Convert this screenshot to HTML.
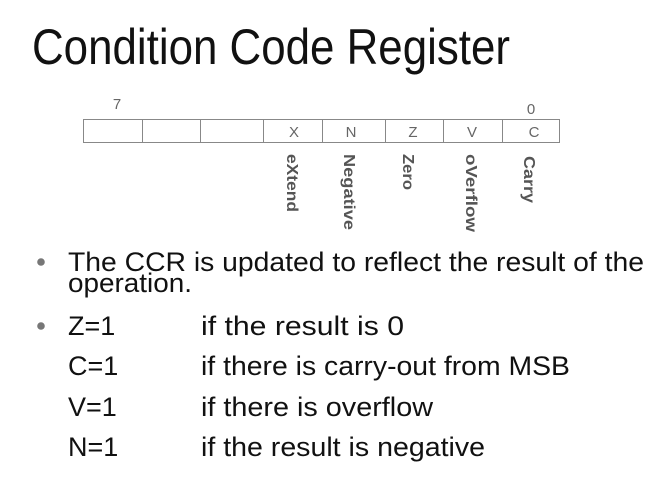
<!DOCTYPE html>
<html><head><style>body{margin:0;background:#fff}svg{display:block}</style></head>
<body>
<svg width="664" height="503" viewBox="0 0 664 503" xmlns="http://www.w3.org/2000/svg" font-family="Liberation Sans, sans-serif">
<text x="32" y="64" font-size="50" fill="#111" textLength="478" lengthAdjust="spacingAndGlyphs">Condition Code Register</text>
<g fill="none" stroke="#888" stroke-width="1">
<rect x="83.5" y="119.5" width="476" height="23"/>
<line x1="142.5" y1="119" x2="142.5" y2="143"/>
<line x1="200.5" y1="119" x2="200.5" y2="143"/>
<line x1="263.5" y1="119" x2="263.5" y2="143"/>
<line x1="322.5" y1="119" x2="322.5" y2="143"/>
<line x1="385.5" y1="119" x2="385.5" y2="143"/>
<line x1="443.5" y1="119" x2="443.5" y2="143"/>
<line x1="502.5" y1="119" x2="502.5" y2="143"/>
</g>
<g font-size="15" fill="#666" text-anchor="middle">
<text x="117" y="109">7</text>
<text x="531" y="114">0</text>
<text x="294" y="137">X</text>
<text x="351" y="137">N</text>
<text x="413" y="137">Z</text>
<text x="472" y="137">V</text>
<text x="534" y="137">C</text>
</g>
<g font-size="16" font-weight="bold" fill="#555">
<text transform="translate(287,154) rotate(90)" textLength="58" lengthAdjust="spacingAndGlyphs">eXtend</text>
<text transform="translate(344,154) rotate(90)" textLength="76" lengthAdjust="spacingAndGlyphs">Negative</text>
<text transform="translate(403,154) rotate(90)" textLength="36" lengthAdjust="spacingAndGlyphs">Zero</text>
<text transform="translate(466,154) rotate(90)" textLength="78" lengthAdjust="spacingAndGlyphs">oVerflow</text>
<text transform="translate(524,156) rotate(90)" textLength="47" lengthAdjust="spacingAndGlyphs">Carry</text>
</g>
<g fill="#777"><circle cx="41" cy="262" r="3.8"/><circle cx="41" cy="326" r="3.8"/></g>
<g font-size="27" fill="#111">
<text x="68" y="271" textLength="576" lengthAdjust="spacingAndGlyphs">The CCR is updated to reflect the result of the</text>
<text x="68" y="292" textLength="124" lengthAdjust="spacingAndGlyphs">operation.</text>
<text x="68" y="335">Z=1</text><text x="201" y="335" textLength="203" lengthAdjust="spacingAndGlyphs">if the result is 0</text>
<text x="68" y="375">C=1</text><text x="201" y="375" textLength="369" lengthAdjust="spacingAndGlyphs">if there is carry-out from MSB</text>
<text x="68" y="416">V=1</text><text x="201" y="416" textLength="232" lengthAdjust="spacingAndGlyphs">if there is overflow</text>
<text x="68" y="456">N=1</text><text x="201" y="456" textLength="284" lengthAdjust="spacingAndGlyphs">if the result is negative</text>
</g>
</svg>
</body></html>
